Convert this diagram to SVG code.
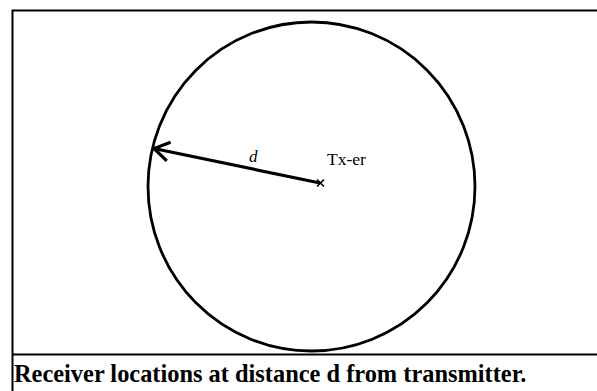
<svg xmlns="http://www.w3.org/2000/svg" width="597" height="391" viewBox="0 0 597 391">
<style>
.frame{fill:none;stroke:#000;stroke-width:2}
.lbl{font-family:"Liberation Serif","Times New Roman",serif;fill:#000}
</style>
<defs>
<marker id="ah" viewBox="-20 -12 24 24" refX="0" refY="0" markerWidth="24" markerHeight="24" orient="auto" markerUnits="userSpaceOnUse">
<path d="M-15,-9.5 L0,0 L-15,9.5" fill="none" stroke="#000" stroke-width="3.2" stroke-linejoin="miter" stroke-linecap="butt"/>
</marker>
</defs>
<rect width="597" height="391" fill="#fff"/>
<g id="frame">
<path class="frame" d="M597,10.5 H12.5 V391"/>
<line class="frame" x1="12" y1="354.5" x2="597" y2="354.5"/>
</g>
<g id="circle">
<ellipse cx="311.5" cy="186.5" rx="163.5" ry="164.5" fill="none" stroke="#000" stroke-width="2.8"/>
</g>
<g id="tx">
<path d="M317,179.5 L324,186.5 M324,179.5 L317,186.5" stroke="#000" stroke-width="1.6"/>
<text class="lbl" x="327" y="165" font-size="17.5">Tx-er</text>
</g>
<g id="connectors">
<line x1="320" y1="183" x2="154" y2="148.5" stroke="#000" stroke-width="3.2" marker-end="url(#ah)"/>
<text class="lbl" x="249" y="162" font-size="17" font-style="italic">d</text>
</g>
<g id="caption">
<text class="lbl" x="14" y="382" font-size="24.4" font-weight="bold">Receiver locations at distance d from transmitter.</text>
</g>
</svg>
